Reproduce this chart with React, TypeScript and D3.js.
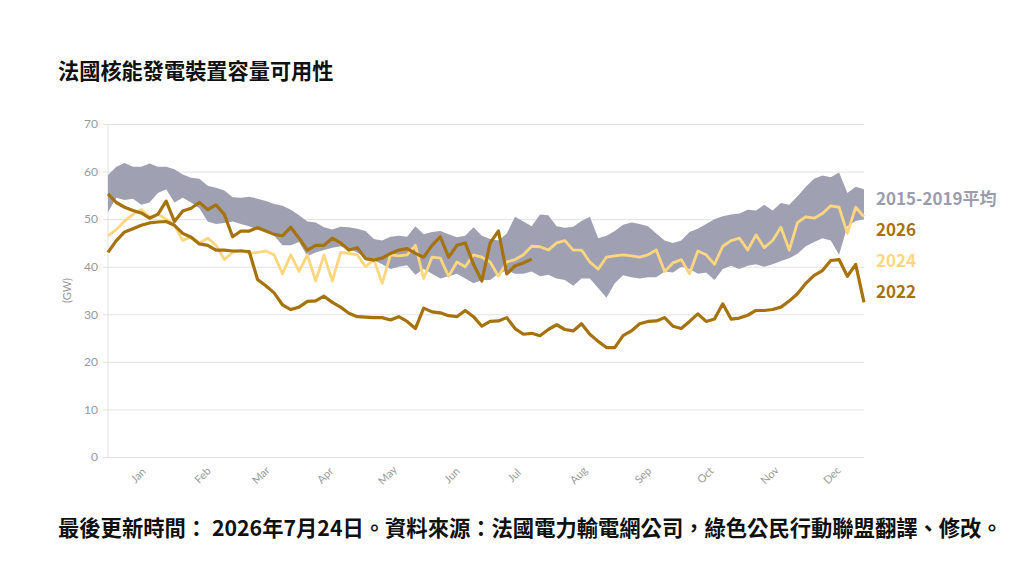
import * as d3 from "d3";
import { useEffect, useRef } from "react";

// sampled every 4 days from Jan 1 (GW)
const STEP_DAYS = 4;

const bandMax = [
  59.3, 61, 61.8, 61, 61, 61.7, 61, 61, 60.5, 59.4,
  58.7, 58.5, 57, 56.6, 56, 54.6, 54.5, 54.7, 54.3, 53.8,
  53.2, 52.8, 52, 50.8, 49.5, 49.3, 48.3, 47.8, 48.4, 48.3,
  48, 47.5, 45.8, 45.5, 46.3, 46.5, 46.3, 48.5, 46.8, 47.3,
  47.5, 46.8, 46.2, 46.5, 48.3, 46.5, 45.8, 45.5, 47, 50.5,
  49.5, 48.5, 51, 50.8, 48.5, 48.2, 48.4, 49.6, 50.5, 46,
  46.5, 47.5, 48.8, 49.3, 49, 48.5, 47, 45.5, 45, 45.5,
  47.3, 48, 49, 50, 50.6, 51, 51.2, 52, 51.8, 53,
  51.8, 53.4, 53, 54.8, 56.8, 58.5, 59.2, 58.8, 59.8, 55.5,
  56.8, 56.3,
];

const bandMin = [
  51.5, 54.5, 54, 54.3, 53, 53.5, 55.5, 56.3, 53.5, 54.5,
  53.5, 52.3, 49.5, 49, 49.2, 49.5, 49, 48.5, 47.8, 47.5,
  46.5, 44.5, 44.5, 45.2, 42.2, 43, 43.5, 44, 44.3, 43.8,
  43, 42, 41.3, 40.5, 39.5, 40, 40.3, 38.3, 39.5, 38.5,
  37.5, 38, 38.5, 37.5, 36.5, 37.2, 37.2, 38.5, 39.2, 38.5,
  38.5, 39, 38, 38.3, 37.5, 37.2, 36, 37.5, 37.5, 35.5,
  33.5, 36.5, 38.2, 37.8, 37.5, 37.8, 37.8, 39, 38.8, 40,
  39.5, 38.5, 38.8, 37.2, 39.5, 40.2, 39.5, 40.2, 40.5, 40,
  40.5, 41.2, 41.8, 42.7, 44.3, 45.2, 46, 45.5, 42.5, 48.5,
  49.6, 50,
];

const values2024 = [
  46.5, 47.8, 49.6, 51, 52, 50.5, 51, 50, 48.8, 45.5,
  46.3, 45, 46, 44.5, 41.5, 43, 43.5, 42.8, 43, 43.3,
  42.5, 38.5, 42.5, 39, 42.5, 37, 42.5, 37, 43, 42.8,
  42.5, 40, 41.5, 36.5, 42.5, 42.3, 42.5, 44.5, 37.5, 42,
  41.8, 38, 41, 40, 42.5, 42, 41, 38, 41, 41.5,
  42.5, 44.3, 44.2, 43.5, 45, 45.5, 43.5, 43.5, 41, 39.5,
  42, 42.3, 42.5, 42.3, 42, 42.5, 43.5, 39, 40.8, 41.5,
  38.5, 43.3, 42.5, 40.5, 44.3, 45.5, 46, 43.5, 46.7, 44,
  45.5, 48.3, 43.5, 49.3, 50.5, 50.2, 51.2, 52.8, 52.5, 47,
  52.5, 50.5,
];

const values2022 = [
  43, 45.5, 47.3, 48, 48.7, 49.2, 49.4, 49.5, 48.7, 47,
  46.2, 44.8, 44.5, 43.5, 43.5, 43.3, 43.3, 43.2, 37.3, 36,
  34.5, 32, 31, 31.5, 32.7, 32.8, 33.8, 32.5, 31.5, 30.2,
  29.5, 29.4, 29.3, 29.3, 28.8, 29.5, 28.5, 27, 31.3, 30.5,
  30.3, 29.7, 29.5, 30.8, 29.5, 27.5, 28.5, 28.6, 29.3, 27,
  25.8, 26, 25.5, 26.8, 27.8, 26.8, 26.5, 28, 25.8, 24.3,
  23, 23, 25.5, 26.5, 28, 28.5, 28.6, 29.3, 27.5, 27,
  28.5, 30.1, 28.5, 29, 32.2, 29, 29.2, 29.8, 30.8, 30.8,
  31, 31.5, 32.8, 34.3, 36.5, 38.2, 39.2, 41.3, 41.5, 38,
  40.5, 32.5,
];

// 2026 runs to Jul 24
const values2026 = [
  55.3, 53.5, 52.5, 51.8, 51.3, 50.2, 51, 53.8, 49.5, 51.7,
  52.3, 53.5, 52, 53, 51, 46.3, 47.5, 47.5, 48.2, 47.5,
  46.8, 46.5, 48.3, 46, 43.5, 44.5, 44.5, 46, 45, 43.5,
  44, 41.7, 41.4, 41.8, 42.8, 43.5, 43.8, 42.8, 42, 44.5,
  46.3, 42, 44.5, 45, 40.5, 37, 45, 47.5, 38.5, 40.2,
  40.8, 41.6,
];

const yTicks = [0, 10, 20, 30, 40, 50, 60, 70];
const monthLabels = ["Jan", "Feb", "Mar", "Apr", "May", "Jun", "Jul", "Aug", "Sep", "Oct", "Nov", "Dec"];

const legendItems = [
  { label: "2015-2019平均", color: "#9b9cad" },
  { label: "2026", color: "#a57210" },
  { label: "2024", color: "#fdd67f" },
  { label: "2022", color: "#a57210" },
];

const TITLE = "法國核能發電裝置容量可用性";
const FOOTER = "最後更新時間： 2026年7月24日。資料來源：法國電力輸電網公司，綠色公民行動聯盟翻譯、修改。";

const BAND_COLOR = "#9fa0b2";
const DARK = "#a5720b";
const LIGHT = "#fdd67f";

export default function App() {
  const ref = useRef<SVGSVGElement | null>(null);

  useEffect(() => {
    if (!ref.current) return;
    const svg = d3.select(ref.current);
    svg.selectAll("*").remove();

    const width = 1024;
    const height = 576;
    const plot = { left: 108, right: 864, top: 124, bottom: 457 };

    const start = new Date(Date.UTC(2023, 0, 1));
    const end = new Date(Date.UTC(2023, 11, 31));
    const dateAt = (i: number) => d3.utcDay.offset(start, i * STEP_DAYS);

    const x = d3.scaleUtc().domain([start, end]).range([plot.left, plot.right]);
    const y = d3.scaleLinear().domain([0, 70]).range([plot.bottom, plot.top]);

    svg.attr("width", width).attr("height", height).attr("viewBox", `0 0 ${width} ${height}`);

    /* title */
    svg
      .append("text")
      .attr("x", 58)
      .attr("y", 79)
      .style("font-family", "'Noto Sans CJK TC', sans-serif")
      .style("font-size", "21.2px")
      .style("font-weight", "bold")
      .style("fill", "#111")
      .text(TITLE);

    /* grid + y axis */
    const yAxis = svg
      .append("g")
      .attr("transform", `translate(${plot.left - 5},0)`)
      .call(
        d3
          .axisLeft(y)
          .tickValues(yTicks)
          .tickSizeInner(-(plot.right - plot.left + 5))
          .tickSizeOuter(0)
          .tickPadding(5)
      );
    yAxis.select(".domain").remove();
    yAxis.selectAll(".tick line").attr("stroke", "#e2e2e2");
    yAxis
      .selectAll(".tick text")
      .style("font-family", "Lato, sans-serif")
      .style("font-size", "12px")
      .style("fill", "#9a9a9a");

    svg
      .append("line")
      .attr("x1", plot.left)
      .attr("x2", plot.left)
      .attr("y1", plot.top)
      .attr("y2", plot.bottom)
      .attr("stroke", "#e2e2e2");

    svg
      .append("text")
      .attr("transform", `translate(71,${y(35)}) rotate(-90)`)
      .attr("text-anchor", "middle")
      .style("font-family", "Lato, sans-serif")
      .style("font-size", "11px")
      .style("fill", "#9a9a9a")
      .text("(GW)");

    /* x labels */
    const months = d3.utcMonth.range(start, end);
    svg
      .append("g")
      .selectAll("text")
      .data(months)
      .enter()
      .append("text")
      .attr("transform", (d) => {
        const mx = x(d3.utcDay.offset(d, 14));
        return `translate(${mx + 2},${plot.bottom + 19}) rotate(-45)`;
      })
      .attr("text-anchor", "middle")
      .attr("dominant-baseline", "middle")
      .style("font-family", "Lato, sans-serif")
      .style("font-size", "11px")
      .style("fill", "#9a9a9a")
      .text((d, i) => monthLabels[i]);

    /* band 2015-2019 */
    const band = d3
      .area<number>()
      .x((_, i) => x(dateAt(i)))
      .y0((_, i) => y(bandMin[i]))
      .y1((d) => y(d));
    svg.append("path").attr("d", band(bandMax)).attr("fill", BAND_COLOR);

    /* lines */
    const line = d3
      .line<number>()
      .x((_, i) => x(dateAt(i)))
      .y((d) => y(d));

    const series = [
      { values: values2024, color: LIGHT, w: 2.8 },
      { values: values2022, color: DARK, w: 3.2 },
      { values: values2026, color: DARK, w: 3.2 },
    ];
    series.forEach((s) => {
      svg
        .append("path")
        .attr("d", line(s.values))
        .attr("fill", "none")
        .attr("stroke", s.color)
        .attr("stroke-width", s.w)
        .attr("stroke-linejoin", "round");
    });

    /* legend */
    svg
      .append("g")
      .selectAll("text")
      .data(legendItems)
      .enter()
      .append("text")
      .attr("x", 876)
      .attr("y", (_, i) => 197 + i * 31.3)
      .attr("dominant-baseline", "central")
      .style("font-family", "'Noto Sans CJK TC', sans-serif")
      .style("font-size", "17px")
      .style("font-weight", "bold")
      .style("fill", (d) => d.color)
      .text((d) => d.label);

    /* footer */
    svg
      .append("text")
      .attr("x", 58)
      .attr("y", 536)
      .style("font-family", "'Noto Sans CJK TC', sans-serif")
      .style("font-size", "21.3px")
      .style("font-weight", "bold")
      .style("fill", "#111")
      .text(FOOTER);
  }, []);

  return (
    <>
      <style>{`body{margin:0}`}</style>
      <svg ref={ref} style={{ display: "block", width: 1024, height: 576 }} />
    </>
  );
}
